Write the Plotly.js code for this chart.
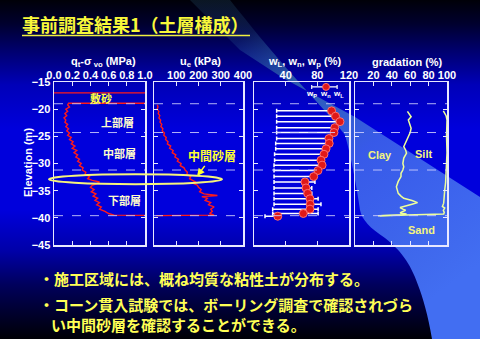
<!DOCTYPE html>
<html>
<head>
<meta charset="utf-8">
<script src="https://cdn.plot.ly/plotly-3.0.1.min.js"></script>
<style>
html,body{margin:0;padding:0;background:#000;}
#wrap{position:relative;width:480px;height:339px;overflow:hidden;}
#bg{position:absolute;left:0;top:0;}
#chart{position:absolute;left:0;top:0;width:480px;height:339px;}
</style>
</head>
<body>
<div id="wrap">
<svg id="bg" width="480" height="339" xmlns="http://www.w3.org/2000/svg">
<defs>
<linearGradient id="bgv" x1="0" y1="0" x2="0" y2="1">
<stop offset="0" stop-color="#000008"/>
<stop offset="0.07" stop-color="#00002e"/>
<stop offset="0.15" stop-color="#00006e"/>
<stop offset="0.25" stop-color="#0000b8"/>
<stop offset="0.38" stop-color="#0000dc"/>
<stop offset="0.62" stop-color="#0000dc"/>
<stop offset="0.74" stop-color="#0000a8"/>
<stop offset="0.84" stop-color="#00005c"/>
<stop offset="0.93" stop-color="#00002a"/>
<stop offset="1" stop-color="#000006"/>
</linearGradient>
<linearGradient id="band" gradientUnits="userSpaceOnUse" x1="240" y1="40" x2="430" y2="300">
<stop offset="0" stop-color="rgb(70,150,190)" stop-opacity="0.15"/>
<stop offset="0.2" stop-color="rgb(70,150,170)" stop-opacity="0.6"/>
<stop offset="0.5" stop-color="rgb(65,105,235)" stop-opacity="0.85"/>
<stop offset="1" stop-color="rgb(66,110,242)" stop-opacity="1"/>
</linearGradient>
</defs>
<rect width="480" height="339" fill="url(#bgv)"/>
<path d="M 190 0 L 240 50 L 283 78 L 355 117 L 480 197 L 480 339 L 432 339 C 428 315 423 298 418 285 C 410 262 400 250 385 238 C 370 228 362 220 360 210 C 357 190 352 160 345 135 C 330 115 310 95 297 80 C 270 50 250 25 230 0 Z" fill="url(#band)"/>
</svg>
<div id="chart"></div>
</div>
<script>
// ---- Panel 1: qt - sigma_vo (MPa)
const qtElev = [-17.0, -17.0, -18.9, -18.9, -19.2, -19.6, -20.0, -20.4, -20.8, -21.2, -21.6, -22.0, -22.4, -22.8, -23.2, -23.6, -24.0, -24.4, -24.8, -25.2, -25.6, -26.0, -26.4, -26.8, -27.2, -27.6, -28.0, -28.4, -28.8, -29.2, -29.6, -30.0, -30.4, -30.8, -31.2, -31.6, -32.0, -32.4, -32.8, -33.1, -33.4, -33.7, -34.0, -34.4, -34.8, -35.2, -35.6, -36.0, -36.4, -36.8, -37.2, -37.6, -38.0, -38.4, -38.8, -39.2, -39.5, -39.6];
const qtVal  = [0.0, 1.3, 1.3, 0.16, 0.15, 0.17, 0.13, 0.15, 0.12, 0.14, 0.11, 0.13, 0.12, 0.15, 0.13, 0.16, 0.14, 0.17, 0.15, 0.19, 0.17, 0.21, 0.19, 0.23, 0.20, 0.25, 0.22, 0.26, 0.24, 0.28, 0.26, 0.30, 0.28, 0.32, 0.31, 0.35, 0.34, 0.39, 0.37, 0.42, 0.50, 0.47, 0.42, 0.40, 0.44, 0.41, 0.46, 0.43, 0.48, 0.45, 0.50, 0.47, 0.52, 0.50, 0.56, 0.60, 0.66, 1.3];

// ---- Panel 2: ue (kPa)
const ueElev = [-19.2, -19.6, -20.0, -20.4, -20.8, -21.2, -21.6, -22.0, -22.4, -22.8, -23.2, -23.6, -24.0, -24.4, -24.8, -25.2, -25.6, -26.0, -26.4, -26.8, -27.2, -27.6, -28.0, -28.4, -28.8, -29.2, -29.6, -30.0, -30.4, -30.8, -31.2, -31.6, -32.0, -32.4, -32.8, -33.1, -33.4, -33.7, -34.0, -34.4, -34.8, -35.2, -35.6, -35.9, -36.1, -36.4, -36.8, -37.2, -37.6, -38.0, -38.4, -38.8, -39.2, -39.5, -39.6];
const ueVal  = [15, 18, 14, 22, 19, 26, 22, 30, 27, 35, 31, 40, 37, 47, 44, 55, 52, 63, 60, 75, 70, 86, 82, 98, 94, 110, 105, 122, 118, 135, 140, 150, 148, 165, 160, 175, 185, 178, 195, 200, 212, 205, 225, 285, 215, 240, 230, 255, 245, 270, 255, 262, 250, 270, 10];

// ---- Panel 3: consistency limits (%)
const wElev = [-20.3, -21.3, -22.3, -23.4, -24.3, -25.4, -26.3, -27.3, -28.3, -29.4, -30.3, -31.3, -32.4, -33.4, -34.5, -35.5, -36.5, -37.5, -38.4, -39.2, -39.7];
const wP    = [28.6, 28.6, 28.6, 28.6, 28.6, 28.6, 27.4, 27.4, 26.0, 26.0, 25.3, 25.3, 25.3, 25.3, 25.3, 25.3, 25.3, 25.3, 23.6, 23.6, 13.9];
const wN    = [98, 103, 108.6, 102, 101, 94.7, 95, 91, 88.4, 84.6, 86, 80.8, 75.4, 64.4, 65.7, 67.8, 70.7, 71, 70.7, 62.3, 30];
const wL    = [98, 100, 96, 100, 98, 96, 96, 90, 90, 85, 85, 81, 77, 77, 73, 73, 81, 84.6, 81, 81, 30];
const legendElev = [-15.9];
const legendWP = [72.9], legendWN = [91], legendWL = [105];

// ---- Panel 4: gradation (%)
const clayElev = [-20.4, -20.8, -21.4, -22.0, -22.6, -23.5, -24.3, -25.1, -26.0, -26.9, -27.5, -28.1, -29.0, -30.0, -30.6, -31.2, -31.8, -32.4, -33.3, -34.3, -34.9, -35.5, -36.0, -36.4, -36.8, -37.2, -37.5, -37.8, -38.1, -38.4, -38.6, -38.9, -39.1, -39.3, -39.5, -39.6];
const clayVal  = [57, 59, 61, 58, 59, 61, 60, 58, 55, 53, 55, 56, 53, 52, 53, 52, 50, 50, 47, 45, 46, 47, 50, 53, 62, 68, 62, 54, 49, 52, 55, 51, 49, 56, 50, 27];
const siltElev = [-20.3, -20.8, -21.2, -22.0, -25.0, -28.0, -30.0, -32.4, -33.5, -34.9, -36.0, -37.3, -37.9, -38.2, -38.6, -39.0, -39.3, -39.6];
const siltVal  = [96, 98, 99, 100, 99.5, 100, 99.6, 99.3, 98.5, 97.5, 97, 96.4, 95, 97.5, 96, 97, 96.4, 25];

// ---- Tick labels / boundaries
const tick1Vals = [0, 0.2, 0.4, 0.6, 0.8, 1.0], tick1Text = ['0.0', '0.2', '0.4', '0.6', '0.8', '1.0'];
const tick2Vals = [100, 200, 300, 400], tick2Text = ['100', '200', '300', '400'];
const tick3Vals = [40, 80, 120], tick3Text = ['40', '80', '120'];
const tick4Vals = [20, 40, 60, 80, 100], tick4Text = ['20', '40', '60', '80', '100'];
const elevTicks = [-45, -40, -35, -30, -25, -20, -15];
const layerBounds = [-19.0, -24.3, -31.2, -39.6];

const W = 480, H = 339;
const px = v => v / W;
const py = v => 1 - v / H;
const yDom = [py(245), py(82)];

const tickFont = {family: 'Liberation Sans, Arial, sans-serif', size: 11, color: '#ffffff', weight: 'bold'};
const jp = 'Noto Sans CJK JP, sans-serif';
const arial = 'Liberation Sans, Arial, sans-serif';

function xAxis(dom, range, tv, tt, anchor) {
  return {domain: dom, range: range, side: 'top', anchor: anchor, tickmode: 'array', tickvals: tv, ticktext: tt,
    ticks: 'inside', ticklen: 4, tickcolor: '#e8e8ff', tickwidth: 1.2, showline: true, linecolor: '#e8e8ff', linewidth: 1.5,
    mirror: 'ticks', showgrid: false, zeroline: false, tickfont: tickFont, automargin: false, fixedrange: true,
    ticklabelstandoff: -3};
}
function yAxis(anchor, showLabels) {
  return {domain: yDom, range: [-45, -15], anchor: anchor, tickmode: 'array', tickvals: elevTicks,
    showticklabels: showLabels, ticks: 'inside', ticklen: 4, tickcolor: '#e8e8ff', tickwidth: 1.2,
    showline: true, linecolor: '#e8e8ff', linewidth: 1.5, mirror: 'ticks', showgrid: false, zeroline: false,
    tickfont: tickFont, automargin: false, fixedrange: true};
}

const red = '#ff1a1a';
const traces = [
  {x: qtVal, y: qtElev, xaxis: 'x', yaxis: 'y', mode: 'lines', line: {color: red, width: 1.4}, hoverinfo: 'skip'},
  {x: ueVal, y: ueElev, xaxis: 'x2', yaxis: 'y2', mode: 'lines', line: {color: red, width: 1.4}, hoverinfo: 'skip'},
  {x: wN, y: wElev, xaxis: 'x3', yaxis: 'y3', mode: 'markers',
   marker: {size: 8, color: '#e01818', line: {color: '#ff7070', width: 1}},
   error_x: {type: 'data', symmetric: false, array: wL.map((v, i) => Math.max(v - wN[i], 0)),
     arrayminus: wN.map((v, i) => v - wP[i]), color: '#ffffff', thickness: 1.5, width: 2}},
  {x: legendWN, y: legendElev, xaxis: 'x3', yaxis: 'y3', mode: 'markers',
   marker: {size: 7, color: '#e01818', line: {color: '#ff7070', width: 1}},
   error_x: {type: 'data', symmetric: false, array: legendWL.map((v, i) => v - legendWN[i]),
     arrayminus: legendWN.map((v, i) => v - legendWP[i]), color: '#ffffff', thickness: 1.2, width: 2}},
  {x: clayVal, y: clayElev, xaxis: 'x4', yaxis: 'y4', mode: 'lines', line: {color: '#eeff9a', width: 1.5}},
  {x: siltVal, y: siltElev, xaxis: 'x4', yaxis: 'y4', mode: 'lines', line: {color: '#eeff9a', width: 1.5}}
];

const shapes = [];
[['x', 'y'], ['x2', 'y2'], ['x3', 'y3'], ['x4', 'y4']].forEach(([xa, ya]) => {
  layerBounds.forEach(b => shapes.push({type: 'line', xref: xa + ' domain', yref: ya, x0: 0, x1: 1, y0: b, y1: b,
    line: {color: 'rgba(210,210,255,0.85)', width: 1, dash: 'dash'}}));
});
shapes.push({type: 'circle', xref: 'paper', yref: 'y', x0: px(49), x1: px(222), y0: -32.0, y1: -33.8,
  line: {color: '#f6f47a', width: 2}});
shapes.push({type: 'line', xref: 'paper', yref: 'paper', x0: px(22), x1: px(250), y0: py(35.5), y1: py(35.5),
  line: {color: '#f0f040', width: 1.5}});

const pale = '#fffccc', yel = '#ffff40';
function ann(text, x, y, xr, yr, color, size, fam, xa, ya) {
  return {text: text, x: x, y: y, xref: xr, yref: yr, showarrow: false,
    xanchor: xa || 'center', yanchor: ya || 'middle',
    font: {family: fam || jp, size: size, color: color, weight: 'bold'}};
}
const annotations = [
  // axis titles
  ann('q<sub>t</sub>-σ<sub> vo</sub> (MPa)', px(103), py(62), 'paper', 'paper', '#ffffff', 11, arial),
  ann('u<sub>e</sub> (kPa)', px(200), py(62), 'paper', 'paper', '#ffffff', 11, arial),
  ann('w<sub>L</sub>, w<sub>n</sub>, w<sub>p</sub> (%)', px(305), py(62), 'paper', 'paper', '#ffffff', 11, arial),
  ann('gradation (%)', px(407), py(62), 'paper', 'paper', '#ffffff', 11, arial),
  Object.assign(ann('Elevation (m)', px(28), py(163), 'paper', 'paper', '#ffffff', 11, arial), {textangle: -90}),
  // layer names
  ann('敷砂', 0.52, -18.0, 'x', 'y', yel, 11),
  ann('上部層', 0.70, -22.4, 'x', 'y', pale, 11),
  ann('中部層', 0.72, -28.1, 'x', 'y', pale, 11),
  ann('下部層', 0.77, -36.7, 'x', 'y', pale, 11),
  {text: '中間砂層', x: 194, y: -32.3, xref: 'x2', yref: 'y2', ax: 262, ay: -28.6, axref: 'x2', ayref: 'y2',
   xanchor: 'center', yanchor: 'middle',
   showarrow: true, arrowhead: 2, arrowsize: 1, arrowwidth: 1.5, arrowcolor: '#ffff30', standoff: 0,
   font: {family: jp, size: 12, color: '#ffff30', weight: 'bold'}},
  ann('w<sub>P</sub>', 72, -17.2, 'x3', 'y3', '#ffffff', 8, arial),
  ann('w<sub>n</sub>', 90, -17.2, 'x3', 'y3', '#ffffff', 8, arial),
  ann('w<sub>L</sub>', 107, -17.2, 'x3', 'y3', '#ffffff', 8, arial),
  ann('Clay', 27, -28.4, 'x4', 'y4', '#f4f480', 11, arial),
  ann('Silt', 74, -28.3, 'x4', 'y4', '#f4f480', 11, arial),
  ann('Sand', 72, -42.3, 'x4', 'y4', '#f4f480', 11, arial),
  ann('・施工区域には、概ね均質な粘性土が分布する。', px(37), py(278), 'paper', 'paper', '#ffff55', 15, jp, 'left'),
  ann('・コーン貫入試験では、ボーリング調査で確認されづら', px(37), py(304), 'paper', 'paper', '#ffff55', 15, jp, 'left'),
  ann('い中間砂層を確認することができる。', px(49), py(324), 'paper', 'paper', '#ffff55', 15, jp, 'left')
];

const layout = {
  width: W, height: H, margin: {l: 0, r: 0, t: 0, b: 0, pad: 0},
  paper_bgcolor: 'rgba(0,0,0,0)', plot_bgcolor: 'rgba(0,0,0,0)', showlegend: false,
  title: {text: '事前調査結果1（土層構成）', x: px(22), xanchor: 'left', y: py(26), yanchor: 'middle', xref: 'paper', yref: 'paper',
    font: {family: jp, size: 18, color: '#f8f83a', weight: 'bold'}},
  xaxis: xAxis([px(54), px(145)], [0, 1], tick1Vals, tick1Text, 'y'),
  xaxis2: xAxis([px(154), px(243)], [0, 400], tick2Vals, tick2Text, 'y2'),
  xaxis3: xAxis([px(254), px(349)], [0, 120], tick3Vals, tick3Text, 'y3'),
  xaxis4: xAxis([px(355), px(447)], [0, 100], tick4Vals, tick4Text, 'y4'),
  yaxis: yAxis('x', true),
  yaxis2: yAxis('x2', false),
  yaxis3: yAxis('x3', false),
  yaxis4: yAxis('x4', false),
  shapes: shapes,
  annotations: annotations
};

Plotly.newPlot('chart', traces, layout, {staticPlot: true, displayModeBar: false});
</script>
</body>
</html>
